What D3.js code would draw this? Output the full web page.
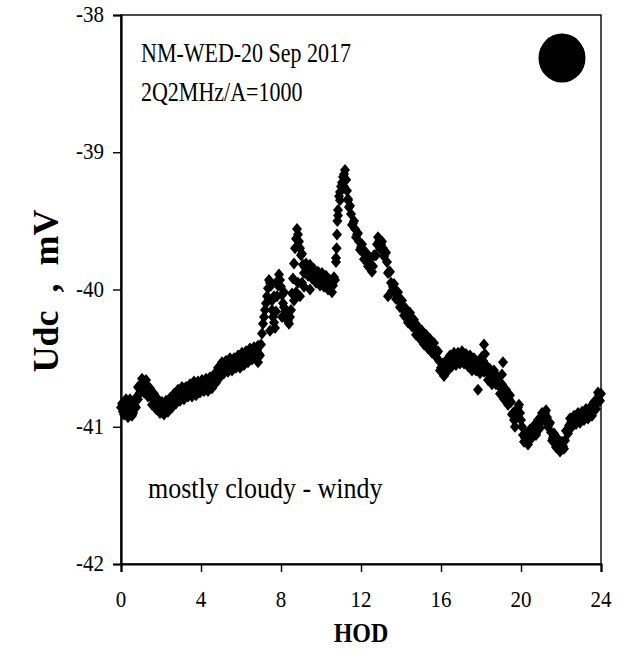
<!DOCTYPE html>
<html><head><meta charset="utf-8">
<script src="https://cdn.jsdelivr.net/npm/d3@7/dist/d3.min.js"></script>
<style>body{margin:0;background:#fff}svg{display:block}text{font-family:"Liberation Serif","Times New Roman",serif;fill:#000}</style>
</head><body><svg id="c" width="630" height="654"></svg>
<script>
// Main series: HOD from 0 to 24 in 0.1 h steps
const hourStart = 0, hourStep = 0.1;
const udcValues = [
-40.86,-40.89,-40.84,-40.91,-40.86,-40.82,-40.90,-40.85,-40.78,-40.72,
-40.69,-40.70,-40.68,-40.72,-40.74,-40.78,-40.80,-40.81,-40.83,-40.85,
-40.86,-40.87,-40.86,-40.85,-40.84,-40.82,-40.81,-40.79,-40.78,-40.77,
-40.76,-40.75,-40.76,-40.74,-40.73,-40.74,-40.72,-40.71,-40.73,-40.70,
-40.71,-40.69,-40.70,-40.68,-40.70,-40.67,-40.68,-40.65,-40.62,-40.60,
-40.58,-40.57,-40.56,-40.56,-40.55,-40.54,-40.55,-40.53,-40.52,-40.53,
-40.51,-40.50,-40.50,-40.49,-40.48,-40.47,-40.46,-40.46,-40.44,-40.47,
-40.40,-40.25,-40.15,-40.05,-39.93,-39.97,-40.20,-40.28,-40.05,-39.89,
-39.98,-40.10,-40.16,-40.22,-40.25,-40.15,-39.92,-39.70,-39.56,-39.65,
-39.75,-39.82,-39.84,-39.86,-39.85,-39.87,-39.88,-39.90,-39.91,-39.92,
-39.93,-39.92,-39.94,-39.95,-39.96,-39.98,-39.97,-39.93,-39.60,-39.32,
-39.25,-39.18,-39.13,-39.28,-39.40,-39.45,-39.52,-39.56,-39.60,-39.65,
-39.69,-39.72,-39.75,-39.78,-39.80,-39.82,-39.83,-39.75,-39.67,-39.65,
-39.67,-39.70,-39.74,-39.80,-39.87,-39.95,-39.98,-40.01,-40.04,-40.07,
-40.10,-40.13,-40.16,-40.19,-40.20,-40.22,-40.24,-40.27,-40.30,-40.31,
-40.33,-40.35,-40.36,-40.38,-40.39,-40.41,-40.42,-40.44,-40.46,-40.52,
-40.57,-40.60,-40.57,-40.55,-40.53,-40.52,-40.51,-40.50,-40.51,-40.49,
-40.50,-40.49,-40.50,-40.52,-40.51,-40.53,-40.55,-40.53,-40.56,-40.58,
-40.55,-40.52,-40.58,-40.60,-40.62,-40.63,-40.65,-40.62,-40.66,-40.70,
-40.72,-40.74,-40.76,-40.78,-40.80,-40.82,-40.90,-41.00,-40.88,-40.84,
-40.95,-41.06,-41.08,-41.10,-41.07,-41.05,-41.02,-41.03,-41.00,-40.98,
-40.95,-40.92,-40.90,-40.93,-40.98,-41.04,-41.08,-41.10,-41.12,-41.14,
-41.15,-41.14,-41.10,-41.03,-40.99,-40.97,-40.96,-40.95,-40.94,-40.93,
-40.93,-40.92,-40.91,-40.90,-40.90,-40.89,-40.87,-40.85,-40.80,-40.77,
-40.76
];
// Interleaved readings at HOD 0.05, 0.15, ... 23.95 (spread of the band)
const halfStart = 0.05;
const udcHalfValues = [
-40.83,-40.91,-40.83,-40.93,-40.80,-40.91,-40.83,-40.86,-40.71,-40.75,
-40.65,-40.74,-40.66,-40.78,-40.72,-40.84,-40.76,-40.87,-40.80,-40.90,
-40.82,-40.91,-40.81,-40.89,-40.79,-40.86,-40.76,-40.83,-40.73,-40.81,
-40.71,-40.80,-40.71,-40.78,-40.69,-40.78,-40.67,-40.77,-40.67,-40.75,
-40.66,-40.74,-40.65,-40.74,-40.64,-40.72,-40.62,-40.68,-40.57,-40.64,
-40.53,-40.61,-40.52,-40.60,-40.50,-40.59,-40.50,-40.57,-40.48,-40.57,
-40.46,-40.55,-40.45,-40.53,-40.43,-40.51,-40.42,-40.50,-40.41,-40.48,
-40.32,-40.20,-40.10,-39.99,-39.95,-40.08,-40.24,-40.16,-39.97,-39.93,
-40.04,-40.13,-40.19,-40.23,-40.20,-40.03,-39.81,-39.63,-39.60,-39.70,
-39.74,-39.88,-39.81,-39.90,-39.82,-39.92,-39.85,-39.95,-39.87,-39.97,
-39.88,-39.98,-39.90,-40.00,-39.93,-40.02,-39.91,-39.77,-39.46,-39.29,
-39.22,-39.16,-39.20,-39.34,-39.39,-39.53,-39.50,-39.62,-39.59,-39.71,
-39.67,-39.78,-39.73,-39.83,-39.77,-39.87,-39.75,-39.75,-39.62,-39.70,
-39.65,-39.76,-39.73,-39.88,-39.87,-40.01,-39.96,-40.07,-40.02,-40.13,
-40.08,-40.19,-40.14,-40.24,-40.17,-40.27,-40.22,-40.33,-40.27,-40.36,
-40.30,-40.40,-40.33,-40.43,-40.36,-40.46,-40.39,-40.49,-40.45,-40.59,
-40.54,-40.63,-40.52,-40.59,-40.48,-40.56,-40.46,-40.55,-40.46,-40.54,
-40.45,-40.54,-40.47,-40.56,-40.48,-40.59,-40.50,-40.59,-40.53,-40.61,
-40.49,-40.60,-40.55,-40.66,-40.58,-40.69,-40.59,-40.69,-40.64,-40.76,
-40.69,-40.80,-40.73,-40.84,-40.77,-40.91,-40.95,-40.94,-40.86,-40.90,
-41.00,-41.11,-41.05,-41.13,-41.02,-41.08,-40.99,-41.06,-40.95,-41.01,
-40.90,-40.95,-40.88,-41.00,-40.97,-41.10,-41.05,-41.15,-41.09,-41.18,
-41.11,-41.16,-41.03,-41.05,-40.94,-41.00,-40.92,-40.98,-40.90,-40.97,
-40.89,-40.95,-40.87,-40.94,-40.86,-40.92,-40.82,-40.87,-40.75,-40.81
];
// Additional scattered readings
const extraHours  = [0.25,0.55,0.85,1.15,6.85,7.45,7.55,7.65,7.75,8.05,8.15,8.65,8.75,8.85,8.95,9.05,9.15,9.45,10.75,10.78,10.82,10.85,10.95,11.15,11.25,11.35,13.35,17.85,18.15,18.2,19.1,19.05,20.75,21.15];
const extraValues = [-40.80,-40.92,-40.80,-40.75,-40.53,-40.30,-40.15,-40.05,-39.95,-40.20,-40.02,-40.08,-40.02,-39.95,-40.05,-39.95,-39.98,-40.00,-39.80,-39.70,-39.50,-39.42,-39.35,-39.25,-39.20,-39.35,-40.05,-40.73,-40.40,-40.47,-40.53,-40.62,-41.05,-40.93];
const xTicks = [0,4,8,12,16,20,24];
const yTicks = [-42,-41,-40,-39,-38];
const titleLines = ["NM-WED-20 Sep 2017","2Q2MHz/A=1000"];
const noteText = "mostly cloudy - windy";
const xLabel = "HOD", yLabel = "Udc\u00a0\u00a0,\u00a0\u00a0mV";

const svg = d3.select("#c");
const L=121,R=601,T=15,B=564;
const x = d3.scaleLinear().domain([0,24]).range([L,R]);
const y = d3.scaleLinear().domain([-42,-38]).range([B,T]);

function txt(px,py,str,size,anchor,bold,k,rot){
  return svg.append("text")
    .attr("transform",rot?`translate(${px},${py}) rotate(-90)`:`translate(${px},${py}) scale(1,${k||1})`)
    .attr("text-anchor",anchor||"start").attr("font-size",size)
    .attr("font-weight",bold?"bold":"normal").text(str);
}

const pts = udcValues.map((v,i)=>({h:hourStart+i*hourStep,v}))
  .concat(udcHalfValues.map((v,i)=>({h:halfStart+i*hourStep,v})))
  .concat(extraHours.map((h,i)=>({h,v:extraValues[i]})));

const diamond = {draw(c){const w=5,h=6;c.moveTo(0,-h);c.lineTo(w,0);c.lineTo(0,h);c.lineTo(-w,0);c.closePath();}};
const sym = d3.symbol().type(diamond);
svg.append("g").selectAll("path").data(pts).join("path")
  .attr("transform",d=>`translate(${x(d.h)},${y(d.v)})`)
  .attr("d",sym).attr("fill","#000");

// frame
svg.append("rect").attr("x",L).attr("y",T).attr("width",R-L).attr("height",B-T)
  .attr("fill","none").attr("stroke","#000").attr("stroke-width",1.4);

const xa = svg.append("g").attr("transform",`translate(0,${B})`)
  .call(d3.axisBottom(x).tickValues(xTicks).tickSize(8).tickFormat(""));
const ya = svg.append("g").attr("transform",`translate(${L},0)`)
  .call(d3.axisLeft(y).tickValues(yTicks).tickSize(8).tickFormat(""));
[xa,ya].forEach(a=>{
  a.select(".domain").attr("stroke","#000").attr("stroke-width",2.2);
  a.selectAll(".tick line").attr("stroke","#000").attr("stroke-width",1.4);
});
const fmt = v=>String(v).replace("\u2212","-");
xTicks.forEach(t=>txt(x(t),607,fmt(t),21,"middle",false,1.1));
yTicks.forEach(t=>txt(104,y(t)+7,fmt(t),21,"end",false,1.1));

txt((L+R)/2,642,xLabel,24,"middle",true,1.1);
txt(58,291,yLabel,36,"middle",true,1,true);

txt(141,62,titleLines[0],22,"start",false,1.28);
txt(141,101,titleLines[1],22,"start",false,1.28);
txt(148,498,noteText,26,"start",false,1.15);
svg.append("ellipse").attr("cx",562).attr("cy",58).attr("rx",23.5).attr("ry",24.5).attr("fill","#000");
</script></body></html>
